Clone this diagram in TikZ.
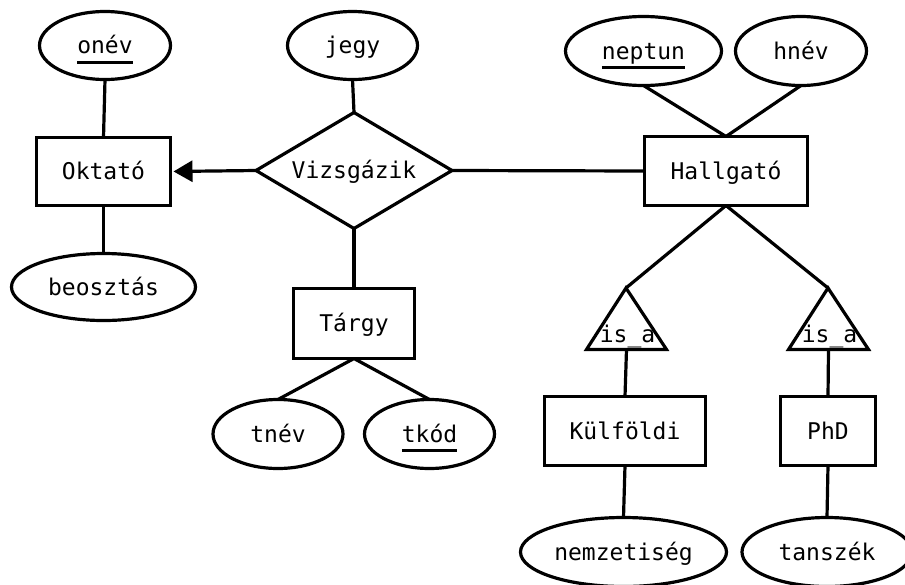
\documentclass[tikz,border=0pt]{standalone}
\usepackage{fontspec}
\newfontfamily\ermono{DejaVu Sans Mono}
\usetikzlibrary{shapes.geometric,arrows.meta}

% key attribute: text with a thick underline
\newcommand\keyattr[1]{\setbox0\hbox{#1}\rlap{\rule[-10pt]{\wd0}{3pt}}\box0}

\tikzset{
  er/.style={draw=black, line width=3.2pt, inner sep=0pt, outer sep=0pt,
    font=\ermono\fontsize{23}{27}\selectfont, text height=21pt, text depth=5pt},
  entity/.style={er, rectangle, minimum height=68pt},
  attr/.style={er, ellipse, minimum height=68pt},
  relation/.style={er, diamond, aspect=1.69, minimum width=196pt, minimum height=116pt},
  isa/.style={draw=black, line width=3.2pt, line join=miter},
  conn/.style={line width=3.2pt},
}

\begin{document}
\begin{tikzpicture}[x=1pt,y=-1pt]
\useasboundingbox (0,0) rectangle (905,584);
\clip (0,0) rectangle (905,584);

% entities
\node[entity, minimum width=134pt] (oktato)   at (103.5,171.5) {Oktató};
\node[entity, minimum width=121pt, minimum height=70pt] (targy) at (354,323.5) {Tárgy};
\node[entity, minimum width=163pt, minimum height=69pt] (hallgato) at (726,171) {Hallgató};
\node[entity, minimum width=161pt, minimum height=69pt] (kulfoldi) at (625,431) {Külföldi};
\node[entity, minimum width=95pt,  minimum height=69pt] (phd)      at (828,431) {PhD};

% relationship
\node[relation] (vizsga) at (354,170.5) {Vizsgázik};

% attributes
\node[attr, minimum width=131pt] (onev)     at (105,45.5)  {\keyattr{onév}};
\node[attr, minimum width=184pt, minimum height=67pt] (beosztas) at (103.5,287) {beosztás};
\node[attr, minimum width=130pt] (jegy)     at (352.5,45.5) {jegy};
\node[attr, minimum width=130pt, minimum height=69pt] (tnev) at (278,434) {tnév};
\node[attr, minimum width=130pt, minimum height=69pt] (tkod) at (429.5,434) {\keyattr{tkód}};
\node[attr, minimum width=156pt, minimum height=69pt] (neptun) at (643.5,51) {\keyattr{neptun}};
\node[attr, minimum width=131pt, minimum height=69pt] (hnev)   at (801,51) {hnév};
\node[attr, minimum width=206pt, minimum height=69pt] (nemz)   at (623.5,552) {nemzetiség};
\node[attr, minimum width=170pt, minimum height=69pt] (tanszek) at (827,552) {tanszék};

% is_a triangles
\coordinate (isaLtop) at (626,288);
\coordinate (isaLbot) at (626.5,349.5);
\coordinate (isaRtop) at (828,288);
\coordinate (isaRbot) at (828.5,349.5);
\draw[isa] (isaLtop) -- (586.5,349.5) -- (666.5,349.5) -- cycle;
\draw[isa] (isaRtop) -- (788.5,349.5) -- (868.5,349.5) -- cycle;
\node[er, draw=none, anchor=base] (isaL) at (627.5,342) {is\_a};
\node[er, draw=none, anchor=base] (isaR) at (829.5,342) {is\_a};

% connectors
\draw[conn] (onev.south) -- (oktato.north);
\draw[conn] (oktato.south) -- (beosztas.north);
\draw[conn] (jegy.south) -- (vizsga.north);
\draw[conn, -{Triangle[length=19pt,width=21pt]}, shorten >=3pt] (vizsga.west) -- (oktato.east);
\draw[conn] (vizsga.east) -- (hallgato.west);
\draw[conn] (vizsga.south) -- (targy.north);
\draw[conn] (targy.south) -- (tnev.north);
\draw[conn] (targy.south) -- (tkod.north);
\draw[conn] (neptun.south) -- (hallgato.north);
\draw[conn] (hnev.south) -- (hallgato.north);
\draw[conn] (hallgato.south) -- (isaLtop);
\draw[conn] (hallgato.south) -- (isaRtop);
\draw[conn] (isaLbot) -- (kulfoldi.north);
\draw[conn] (isaRbot) -- (phd.north);
\draw[conn] (kulfoldi.south) -- (nemz.north);
\draw[conn] (phd.south) -- (tanszek.north);
\end{tikzpicture}
\end{document}
